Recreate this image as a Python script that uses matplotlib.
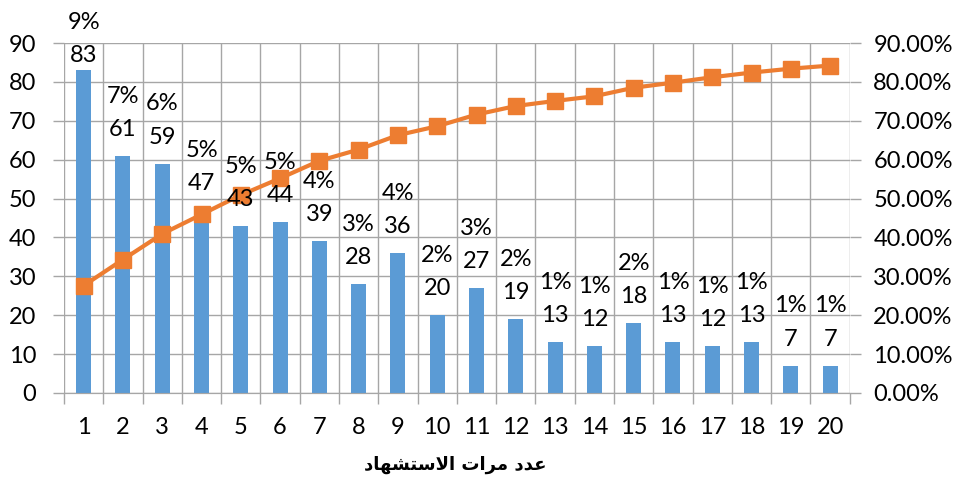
import matplotlib.pyplot as plt
from matplotlib.ticker import FixedLocator, FuncFormatter, NullFormatter

# data
categories = list(range(1, 21))
counts = [83, 61, 59, 47, 43, 44, 39, 28, 36, 20, 27, 19, 13, 12, 18, 13, 12, 13, 7, 7]
shares = [9, 7, 6, 5, 5, 5, 4, 3, 4, 2, 3, 2, 1, 1, 2, 1, 1, 1, 1, 1]
cumulative = [27.6, 34.3, 40.9, 45.9, 50.9, 55.2, 59.7, 62.6, 66.3, 68.6,
              71.6, 73.8, 75.1, 76.3, 78.5, 79.8, 81.2, 82.4, 83.4, 84.2]
# logical order of glyphs (presentation forms) for "عدد مرات الاستشهاد"
xlabel_glyphs = "\ufecb\ufeaa\ufea9 \ufee3\ufeae\ufe8d\ufe95 \ufe8d\ufefb\ufeb3\ufe98\ufeb8\ufeec\ufe8e\ufea9"

BLUE = "#5B9BD5"
ORANGE = "#ED7D31"
GRID = "#A6A6A6"
FS = 17

plt.rcParams["font.family"] = ["Lato", "DejaVu Sans"]

fig = plt.figure(figsize=(9.58, 4.78), dpi=100)
ax = fig.add_axes([0.0668, 0.178, 0.8202, 0.732])
ax2 = ax.twinx()
ax2.set_zorder(ax.zorder - 1)  # line under the labels
ax.patch.set_visible(False)
ax2.patch.set_visible(True)
ax2.patch.set_facecolor("white")

ax2.bar(categories, counts, width=0.38, color=BLUE, zorder=3)
ax2.plot(categories, cumulative, color=ORANGE, lw=3, marker="s", ms=12, zorder=4)

# count just above the bar, share one line higher
for c, v, s in zip(categories, counts, shares):
    y = min(v, 80)
    ax.annotate(str(v), (c, y), xytext=(0, 19), textcoords="offset points",
                ha="center", va="center", fontsize=FS, zorder=5)
    ax.annotate(f"{s}%", (c, y), xytext=(0, 43), textcoords="offset points",
                ha="center", va="center", fontsize=FS, zorder=5)

ax.set_xlim(0.5, 20.5)
ax.set_ylim(0, 90)
ax2.set_ylim(0, 90)
ax.set_yticks(range(0, 91, 10))
ax2.set_yticks(range(0, 91, 10))
ax2.yaxis.set_major_formatter(FuncFormatter(lambda v, p: f"{v:.2f}%"))

# x ticks at category boundaries, labels in between
ax.xaxis.set_major_locator(FixedLocator([i + 0.5 for i in range(0, 21)]))
ax.xaxis.set_major_formatter(NullFormatter())
ax.xaxis.set_minor_locator(FixedLocator(categories))
ax.set_xticklabels([str(c) for c in categories], minor=True)
ax.tick_params(axis="x", which="minor", length=0, pad=17, labelsize=FS)
ax.tick_params(axis="x", which="major", length=8, color=GRID, width=1)
ax.tick_params(axis="y", length=8, color=GRID, width=1, pad=12, labelsize=FS)
ax2.tick_params(axis="y", length=8, color=GRID, width=1, pad=9, labelsize=FS)

# grid drawn on the lower axes so it sits under bars
for v in range(0, 91, 10):
    ax2.axhline(v, color=GRID, lw=1, zorder=0)
for x in range(0, 21):
    ax2.axvline(x + 0.5, color=GRID, lw=1, zorder=0)
ax2.set_xlim(0.5, 20.5)

for a in (ax, ax2):
    for side in ("top", "right", "left"):
        a.spines[side].set_visible(False)
    a.spines["bottom"].set_color(GRID)

fig.text(0.475, 0.027, xlabel_glyphs[::-1], family="DejaVu Sans", fontweight="bold",
         fontsize=13, ha="center", va="center")

fig.savefig("out.png", dpi=100)
